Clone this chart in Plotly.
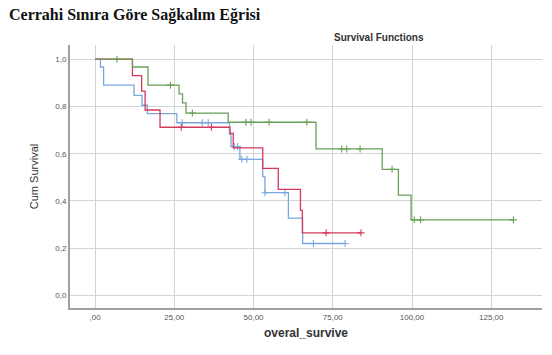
import plotly.graph_objects as go
import numpy as np

# Kaplan-Meier step data (time of event, survival after event) and censored times
green_times = [11.8, 16.7, 26.5, 27.6, 28.7, 42.0, 69.7, 90.6, 95.7, 99.7]
green_surv = [0.967, 0.890, 0.853, 0.815, 0.772, 0.733, 0.620, 0.534, 0.425, 0.320]
green_cens = [6.9, 23.8, 30.7, 47.6, 49.2, 54.9, 66.8, 77.8, 79.4, 83.6, 93.7, 100.7, 102.7, 132.0]

blue_times = [1.7, 2.7, 12.3, 14.8, 16.5, 25.8, 42.4, 42.9, 45.7, 52.9, 53.6, 61.0, 65.5]
blue_surv = [0.967, 0.890, 0.847, 0.805, 0.770, 0.731, 0.682, 0.630, 0.576, 0.503, 0.435, 0.327, 0.220]
blue_cens = [27.5, 33.8, 35.7, 43.9, 45.0, 46.3, 47.9, 53.6, 59.9, 68.9, 78.9]

red_times = [11.8, 14.7, 15.8, 20.5, 42.6, 43.6, 52.9, 57.8, 64.8, 65.4]
red_surv = [0.930, 0.865, 0.785, 0.712, 0.686, 0.625, 0.538, 0.449, 0.360, 0.265]
red_cens = [27.2, 36.7, 72.9, 83.9]

x_ticks = [0, 25, 50, 75, 100, 125]
x_ticktext = [",00", "25,00", "50,00", "75,00", "100,00", "125,00"]
y_ticks = [0, 0.2, 0.4, 0.6, 0.8, 1.0]
y_ticktext = ["0,0", "0,2", "0,4", "0,6", "0,8", "1,0"]

series = [
    ("blue", blue_times, blue_surv, blue_cens, "#7ba6e0"),
    ("red", red_times, red_surv, red_cens, "#d43a5c"),
    ("green", green_times, green_surv, green_cens, "#68a058"),
]

fig = go.Figure()

def surv_at(t, times, surv):
    s = 1.0
    for ti, si in zip(times, surv):
        if ti <= t:
            s = si
    return s

for name, times, surv, cens, col in series:
    end = max(max(times), max(cens))
    xs = [0] + list(times) + [end]
    ys = [1.0] + list(surv) + [surv[-1]]
    fig.add_trace(go.Scatter(x=xs, y=ys, mode="lines", line=dict(color=col, width=1.3, shape="hv"),
                             showlegend=False, hoverinfo="skip"))
    cy = [surv_at(t, times, surv) for t in cens]
    fig.add_trace(go.Scatter(x=cens, y=cy, mode="markers",
                             marker=dict(symbol="cross-thin", size=5, line=dict(color=col, width=1.1)),
                             showlegend=False, hoverinfo="skip"))

fig.update_layout(
    width=552, height=355,
    margin=dict(l=70, r=10, t=45, b=47),
    paper_bgcolor="white", plot_bgcolor="white",
    font=dict(family="Liberation Sans, Arial", color="#444"),
    xaxis=dict(range=[-7.9, 141], tickvals=x_ticks, ticktext=x_ticktext,
               showgrid=True, gridcolor="#d4d4d4", gridwidth=1, zeroline=False,
               showline=True, linecolor="#a0a0a0", linewidth=2,
               ticks="", tickfont=dict(size=8, color="#555"),
               title=dict(text="<b>overal_survive</b>", font=dict(size=12, color="#333"), standoff=8)),
    yaxis=dict(range=[-0.053, 1.06], tickvals=y_ticks, ticktext=y_ticktext,
               showgrid=True, gridcolor="#d4d4d4", gridwidth=1, zeroline=False,
               showline=True, linecolor="#a0a0a0", linewidth=2,
               ticks="", tickfont=dict(size=8, color="#555"),
               title=dict(text="Cum Survival", font=dict(size=11, color="#333"), standoff=14)),
    annotations=[
        dict(text="<b>Cerrahi Sınıra Göre Sağkalım Eğrisi</b>", xref="paper", yref="paper",
             x=-0.133, y=1.114, xanchor="left", yanchor="middle", showarrow=False,
             font=dict(family="Liberation Serif, Times New Roman", size=16, color="#111")),
        dict(text="<b>Survival Functions</b>", xref="paper", yref="paper",
             x=0.655, y=1.027, xanchor="center", yanchor="middle", showarrow=False,
             font=dict(size=10, color="#333")),
    ],
)

fig.write_html("out.html")
